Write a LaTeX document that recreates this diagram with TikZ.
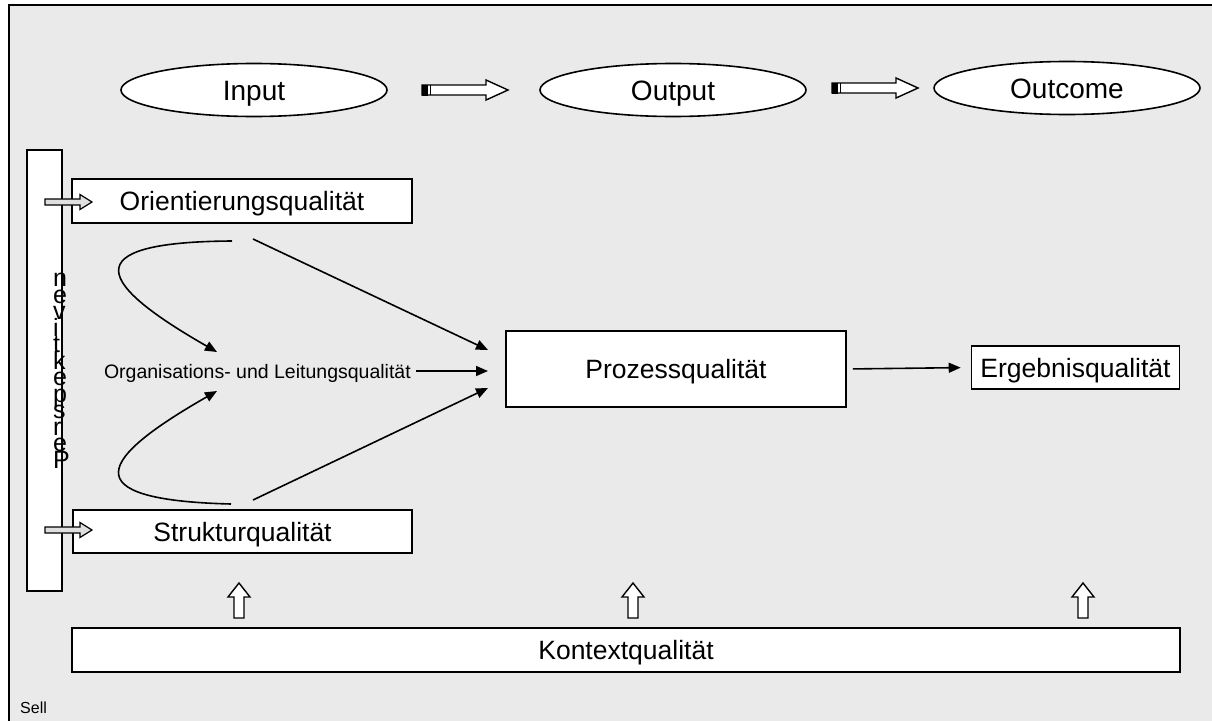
\documentclass[tikz,border=0pt]{standalone}
\usepackage{fontspec}
\setmainfont{Liberation Sans}
\usetikzlibrary{arrows.meta,calc,shapes.geometric}
\definecolor{bggray}{RGB}{234,234,234}
\begin{document}
\begin{tikzpicture}[x=1pt,y=-1pt,
  box/.style={draw=black,line width=1.6pt,fill=white,inner sep=0pt,text height=19pt,text depth=0pt,font=\fontsize{26.5}{30}\selectfont},
  oval/.style={draw=black,ellipse,line width=1.6pt,fill=white,inner sep=0pt,minimum width=266pt,minimum height=53pt,text height=20pt,text depth=0pt,font=\fontsize{28}{32}\selectfont},
  conn/.style={line width=1.6pt,-{Triangle[length=12pt,width=10pt]}},
  blockarrow/.style={draw=black,line width=1.4pt,fill=white,line join=miter},
  smallarrow/.style={draw=black,line width=1.2pt,fill=gray!25,line join=miter},
  letter/.style={anchor=base west,inner sep=0pt,font=\fontsize{25}{25}\selectfont}]
\useasboundingbox (0,0) rectangle (1212,720);
\fill[white] (0,0) rectangle (1212,720);
\clip (0,0) rectangle (1212,720);
\draw[fill=bggray,line width=1.6pt] (9,5) rectangle (1240,750);

% top ellipses
\node[oval] (input) at (254,90) {Input};
\node[oval] (output) at (673,90) {Output};
\node[oval] (outcome) at (1067,88) {Outcome};

% striped block arrows
\foreach \x/\y in {422/90,832/88}{
  \draw[blockarrow] (\x,\y-5) -- (\x+64,\y-5) -- (\x+64,\y-10) -- (\x+86,\y) -- (\x+64,\y+10) -- (\x+64,\y+5) -- (\x,\y+5) -- cycle;
  \fill[black] (\x,\y-5.5) rectangle (\x+5.5,\y+5.5);
  \draw[line width=1.4pt] (\x+8.5,\y-5) -- (\x+8.5,\y+5);
}

% left perspective box
\node[draw=black,fill=white,line width=1.6pt,minimum width=35pt,minimum height=441pt,inner sep=0pt] (persp) at (44.5,370.5) {};
\foreach \l [count=\i from 0] in {P,e,r,s,p,e,k,t,i,v,e,n}
  \node[letter,name=L\i] at (53,{468-16.5*\i}) {\l};

% quality boxes
\node[box,minimum width=340pt,minimum height=44pt] (orient) at (242,201) {Orientierungsqualität};
\node[box,minimum width=339pt,minimum height=43pt] (struktur) at (242.5,531.5) {Strukturqualität};
\node[box,minimum width=340pt,minimum height=76pt] (prozess) at (676,369) {Prozessqualität};
\node[box,minimum width=208pt,minimum height=43pt] (ergebnis) at (1075.5,367.5) {Ergebnisqualität};
\node[box,minimum width=1108pt,minimum height=44pt] (kontext) at (626,650) {Kontextqualität};
\node[anchor=east,inner sep=0pt,text height=14pt,text depth=0pt,font=\fontsize{19.5}{22}\selectfont] (org) at (411,371) {Organisations- und Leitungsqualität};
\node[anchor=base west,inner sep=0pt,font=\fontsize{16}{18}\selectfont] (sell) at (20,713) {Sell};

% small arrows into orient / struktur
\foreach \y in {202,530}{
  \draw[smallarrow] (45,\y-3) -- (80,\y-3) -- (80,\y-7.5) -- (92,\y) -- (80,\y+7.5) -- (80,\y+3) -- (45,\y+3) -- cycle;
}

% up arrows above Kontext
\foreach \x in {239,633,1083}{
  \draw[blockarrow] (\x-5,618) -- (\x-5,597) -- (\x-11,597) -- (\x,583) -- (\x+11,597) -- (\x+5,597) -- (\x+5,618) -- cycle;
}

% named coordinates for free ends
\coordinate (oA) at (232,241);
\coordinate (oB) at (253,239);
\coordinate (sA) at (231,504);
\coordinate (sB) at (253,500);
\coordinate (orgTop) at (217,352);
\coordinate (orgBot) at (217,391);
\coordinate (pTop) at (488,350);
\coordinate (pMid) at (488,371);
\coordinate (pBot) at (488,388);

% connectors
\draw[conn] (oA) .. controls (70,242) and (100,285) .. (orgTop);
\draw[conn] (sA) .. controls (70,500) and (100,458) .. (orgBot);
\draw[conn] (oB) -- (pTop);
\draw[conn] (sB) -- (pBot);
\draw[conn] ([xshift=5pt]org.east) -- (pMid);
\draw[conn,shorten <=6pt,shorten >=10pt] (prozess.east) -- (ergebnis.west);
\end{tikzpicture}
\end{document}
